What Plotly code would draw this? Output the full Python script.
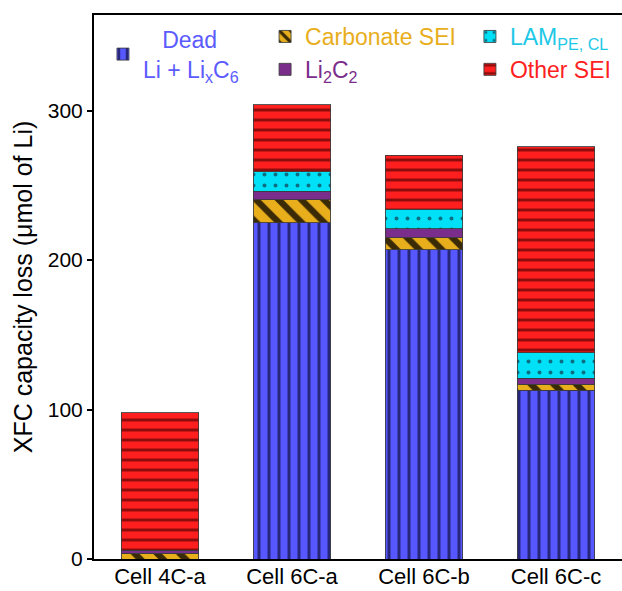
import plotly.graph_objects as go

cells = ["Cell 4C-a", "Cell 6C-a", "Cell 6C-b", "Cell 6C-c"]
dead_li = [0, 225, 207, 113]
carbonate_sei = [4, 15.5, 8, 4]
li2c2 = [2, 5.5, 6, 4]
lam = [0, 13, 13, 17]
other_sei = [92, 45, 36, 138]
y_ticks = [0, 100, 200, 300]

FONT = "Liberation Sans, Arial, Helvetica, sans-serif"
edge = dict(width=1, color="rgba(60,60,60,0.85)")
bw = 0.59

fig = go.Figure()
fig.add_trace(go.Bar(
    x=cells, y=dead_li, width=bw, legend="legend",
    name='<span style="color:#5b5bff">&nbsp;&nbsp;&nbsp;Dead</span><br><span style="color:#5b5bff">Li + Li<sub>x</sub>C<sub>6</sub></span>',
    marker=dict(color="#5757ff", line=edge,
                pattern=dict(shape="|", bgcolor="#5757ff", fgcolor="#26267a",
                             size=10, solidity=0.3, fillmode="replace")),
))
fig.add_trace(go.Bar(
    x=cells, y=carbonate_sei, width=bw, legend="legend2",
    name='<span style="color:#e8ae1c">Carbonate SEI</span>',
    marker=dict(color="#e8ae1c", line=edge,
                pattern=dict(shape="\\", bgcolor="#e8ae1c", fgcolor="#3a2a05",
                             size=16, solidity=0.4, fillmode="replace")),
))
fig.add_trace(go.Bar(
    x=cells, y=li2c2, width=bw, legend="legend2",
    name='<span style="color:#7b2d8c">Li<sub>2</sub>C<sub>2</sub></span>',
    marker=dict(color="#7b2d8c", line=edge),
))
fig.add_trace(go.Bar(
    x=cells, y=lam, width=bw, legend="legend3",
    name='<span style="color:#1ec8e6">LAM<sub>PE, CL</sub></span>',
    marker=dict(color="#00e1f7", line=edge,
                pattern=dict(shape=".", bgcolor="#00e1f7", fgcolor="#0b6e82",
                             size=11, solidity=0.1, fillmode="replace")),
))
fig.add_trace(go.Bar(
    x=cells, y=other_sei, width=bw, legend="legend3",
    name='<span style="color:#ff1f1f">Other SEI</span>',
    marker=dict(color="#ff1f1f", line=edge,
                pattern=dict(shape="-", bgcolor="#ff1f1f", fgcolor="#8e0c0c",
                             size=10, solidity=0.3, fillmode="replace")),
))

leg_common = dict(bgcolor="rgba(0,0,0,0)", font=dict(family=FONT, size=23),
                  xanchor="left", yanchor="top", orientation="v",
                  traceorder="normal", itemclick=False)

fig.update_layout(
    width=622, height=591,
    margin=dict(l=94, r=0, t=15, b=32),
    paper_bgcolor="white", plot_bgcolor="white",
    barmode="stack", bargap=0.41,
    showlegend=True,
    font=dict(family=FONT, size=21, color="black"),
    legend=dict(x=0.017, y=0.995, **leg_common),
    legend2=dict(x=0.324, y=1.0, **leg_common),
    legend3=dict(x=0.712, y=1.0, **leg_common),
    xaxis=dict(range=[-0.5, 3.5], showline=True, linecolor="black", linewidth=2,
               mirror=True, ticks="", showgrid=False, automargin=False,
               ticklabelstandoff=-3,
               tickfont=dict(family=FONT, size=22, color="black")),
    yaxis=dict(range=[0, 364], tickvals=y_ticks, showline=True, linecolor="black",
               linewidth=2, mirror=False, ticks="outside", ticklen=5, tickwidth=1.5,
               tickcolor="black", showgrid=False, zeroline=False, automargin=False,
               tickfont=dict(family=FONT, size=21, color="black"),
               title=dict(text="XFC capacity loss (μmol of Li)",
                          font=dict(family=FONT, size=25, color="black"), standoff=8)),
)

fig.write_html("out.html")
